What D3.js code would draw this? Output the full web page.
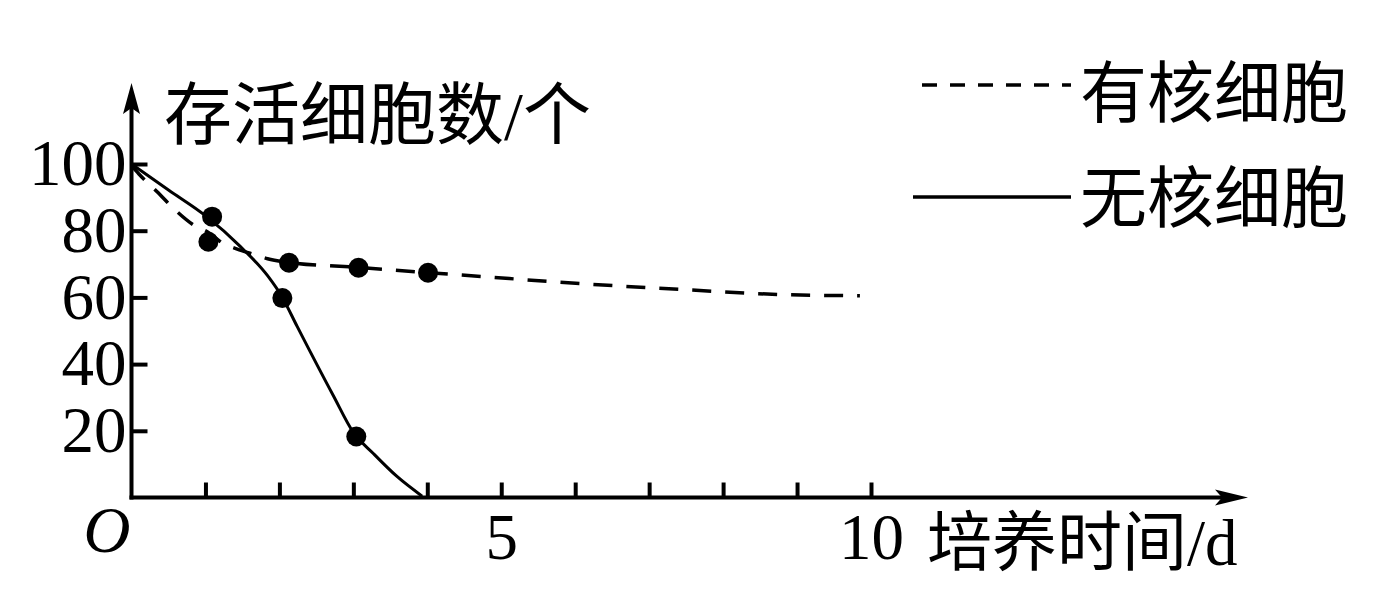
<!DOCTYPE html>
<html>
<head>
<meta charset="utf-8">
<script src="https://cdn.jsdelivr.net/npm/d3@7"></script>
<style>
  html, body { margin: 0; padding: 0; background: #fff; }
  svg text { font-family: "Liberation Serif", "Noto Sans CJK SC", serif; fill: #000; }
</style>
</head>
<body>
<svg id="chart" width="1382" height="608"></svg>
<script>
// ---- data ----
const yTickValues = [20, 40, 60, 80, 100];
const xTickValues = [1, 2, 3, 4, 5, 6, 7, 8, 9, 10];
const xTickLabels = { 5: "5", 10: "10" };
const yTitle = "存活细胞数/个";
const xTitle = "培养时间/d";
const originLabel = "O";
const seriesNames = ["有核细胞", "无核细胞"];

// smooth curve: nucleated cells (dashed)
const nucleatedCurve = [
  [0, 99.5], [0.1, 97], [0.35, 91.6], [0.6, 86], [0.86, 81.4], [1.03, 79.6],
  [1.23, 76.3], [1.43, 74.5], [1.64, 73], [1.84, 71.6], [2.13, 70.5],
  [3.07, 69], [4.01, 67.4], [4.4, 66.8], [6.16, 64], [7.5, 62.3],
  [8.86, 60.8], [9.85, 60.5]
];
// smooth curve: anucleate cells (solid)
const anucleateCurve = [
  [0, 100], [0.5, 92.2], [1, 84.5], [1.47, 75.3], [1.84, 66.5], [2.04, 60],
  [2.24, 51.3], [2.73, 30.5], [3.0, 19.5], [3.27, 13.2], [3.59, 6.3], [3.93, 0.4]
];
// measured points (dots)
const nucleatedDots = [[1.04, 76.7], [2.13, 70.4], [3.07, 68.9], [4.01, 67.4]];
const anucleateDots = [[1.09, 84.2], [2.04, 59.8], [3.04, 18.3]];

// ---- layout ----
const svg = d3.select("#chart");
const x = d3.scaleLinear().domain([0, 10]).range([131.5, 871]);
const y = d3.scaleLinear().domain([0, 100]).range([497.5, 164]);
const axisW = 4;

const g = svg.append("g");

// x axis ticks + labels
const xAxis = d3.axisBottom(x)
  .tickValues(xTickValues)
  .tickSizeInner(-15)
  .tickSizeOuter(0)
  .tickPadding(15)
  .tickFormat(d => xTickLabels[d] || "");
const gx = g.append("g").attr("transform", `translate(0,${y(0)})`).call(xAxis);
gx.select(".domain").remove();
gx.selectAll(".tick line").attr("stroke", "#000").attr("stroke-width", axisW);
gx.selectAll(".tick text").attr("font-size", 65).attr("font-family", "Liberation Serif").attr("fill", "#000");

// y axis ticks + labels
const yAxis = d3.axisLeft(y)
  .tickValues(yTickValues)
  .tickSizeInner(-16)
  .tickSizeOuter(0)
  .tickPadding(5);
const gy = g.append("g").attr("transform", `translate(${x(0)},0)`).call(yAxis);
gy.select(".domain").remove();
gy.selectAll(".tick line").attr("stroke", "#000").attr("stroke-width", axisW);
gy.selectAll(".tick text").attr("font-size", 65).attr("font-family", "Liberation Serif").attr("fill", "#000");

// axis lines with arrows
const x0 = x(0), y0 = y(0);
g.append("line").attr("x1", x0).attr("y1", y0 + axisW / 2).attr("x2", x0).attr("y2", 100)
  .attr("stroke", "#000").attr("stroke-width", axisW);
g.append("line").attr("x1", x0 - axisW / 2).attr("y1", y0).attr("x2", 1230).attr("y2", y0)
  .attr("stroke", "#000").attr("stroke-width", axisW);
// y arrow
g.append("path")
  .attr("d", `M${x0},83 L${x0 + 8.5},114 L${x0},108 L${x0 - 8.5},114 Z`)
  .attr("fill", "#000");
// x arrow
g.append("path")
  .attr("d", `M1248,${y0} L1215,${y0 - 8} L1222,${y0} L1215,${y0 + 8} Z`)
  .attr("fill", "#000");

// origin label
g.append("text").attr("x", 107).attr("y", 552)
  .attr("text-anchor", "middle")
  .attr("font-size", 65).attr("font-style", "italic")
  .text(originLabel);

// titles
g.append("text").attr("x", 164).attr("y", 139).attr("font-size", 68).text(yTitle);
g.append("text").attr("x", 927).attr("y", 565).attr("font-size", 65).text(xTitle);

// curves
const line = d3.line().x(d => x(d[0])).y(d => y(d[1])).curve(d3.curveMonotoneX);
g.append("path").datum(nucleatedCurve).attr("d", line)
  .attr("fill", "none").attr("stroke", "#000").attr("stroke-width", 3.5)
  .attr("stroke-dasharray", "19,14");
g.append("path").datum(anucleateCurve).attr("d", line)
  .attr("fill", "none").attr("stroke", "#000").attr("stroke-width", 3);

// dots
g.selectAll("circle.n").data(nucleatedDots).join("circle").attr("class", "n")
  .attr("cx", d => x(d[0])).attr("cy", d => y(d[1])).attr("r", 10).attr("fill", "#000");
g.selectAll("circle.a").data(anucleateDots).join("circle").attr("class", "a")
  .attr("cx", d => x(d[0])).attr("cy", d => y(d[1])).attr("r", 10).attr("fill", "#000");

// legend
const legend = [
  { name: seriesNames[0], dash: "15,13", x1: 922, ly: 85, ty: 117 },
  { name: seriesNames[1], dash: null, x1: 913, ly: 197, ty: 222 }
];
legend.forEach(l => {
  const ln = g.append("line").attr("x1", l.x1).attr("x2", 1071).attr("y1", l.ly).attr("y2", l.ly)
    .attr("stroke", "#000").attr("stroke-width", 3.5);
  if (l.dash) ln.attr("stroke-dasharray", l.dash);
  g.append("text").attr("x", 1080).attr("y", l.ty).attr("font-size", 67).text(l.name);
});
</script>
</body>
</html>
